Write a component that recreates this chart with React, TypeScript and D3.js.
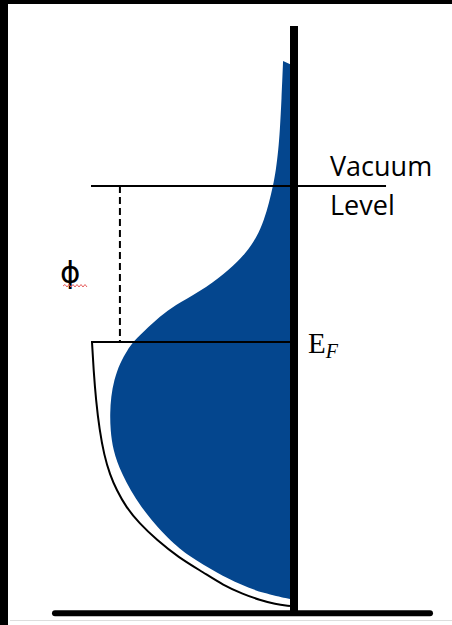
import React from "react";
import * as d3 from "d3";

// Energies in eV (Fermi level = 0), density of states in relative units
const fermiLevel = 0;
const vacuumLevel = 5.0;
const axisTop = 10.13;
const axisBottom = -8.69;

// Blue: actual density of states (left edge), from top tip down to band bottom
const bandEnergy = [9.01, 7.76, 6.79, 6.15, 5.51, 5.0, 4.46, 3.91, 3.37, 2.85, 2.31, 1.76, 1.25, 0.93, 0.48, 0, -0.26, -0.67, -1.22, -1.76, -2.28, -2.82, -3.46, -4.2, -5.29, -6.35, -6.89, -7.4, -7.79, -8.05, -8.24];
const bandDensity = [0.035, 0.043, 0.051, 0.059, 0.071, 0.086, 0.106, 0.131, 0.167, 0.222, 0.308, 0.419, 0.561, 0.636, 0.717, 0.793, 0.821, 0.859, 0.889, 0.904, 0.909, 0.907, 0.894, 0.854, 0.758, 0.611, 0.505, 0.369, 0.247, 0.136, 0];
const bandTopEnergy = 8.85;

// Outline: free-electron occupied states below E_F
const seaEnergy = [0, -0.9, -1.86, -2.82, -3.62, -4.26, -4.74, -5.29, -5.8, -6.35, -6.89, -7.4, -7.79, -8.08, -8.27, -8.4, -8.46];
const seaDensity = [1.0, 0.992, 0.98, 0.962, 0.939, 0.909, 0.876, 0.828, 0.763, 0.672, 0.566, 0.434, 0.338, 0.237, 0.152, 0.076, 0];

const labels = { vacuum1: "Vacuum", vacuum2: "Level", phi: "ϕ", ef: "E", efSub: "F" };

export default function App() {
  const W = 452, H = 625;
  const y = d3.scaleLinear().domain([fermiLevel, vacuumLevel]).range([342, 186]);
  const x = d3.scaleLinear().domain([0, 1]).range([290, 92]);
  const axisX = x(0) + 4;

  const bandPts: [number, number][] = bandEnergy.map((e, i) => [x(bandDensity[i]), y(e)]);
  const edge = d3.line().curve(d3.curveBasis)(bandPts) as string;
  const bandPath = `${edge} L${axisX},${y(bandEnergy[bandEnergy.length - 1])} L${axisX},${y(bandTopEnergy)} Z`;

  const seaPts: [number, number][] = seaEnergy.map((e, i) => [x(seaDensity[i]), y(e)]);
  const seaPath = d3.line().curve(d3.curveBasis)(seaPts) as string;

  // red squiggle under phi
  let sq = "M63,286";
  for (let i = 0; i < 12; i++) sq += ` L${65 + i * 2},${i % 2 === 0 ? 284.5 : 287}`;

  return (
    <svg width={W} height={H} style={{ position: "absolute", left: 0, top: 0, background: "#fff" }}>
      <rect x={0} y={0} width={W} height={H} fill="#fff" />
      <path d={bandPath} fill="#04468e" />
      <path d={seaPath} fill="none" stroke="#000" strokeWidth={2} />
      {/* vacuum level */}
      <line x1={x(1.005)} x2={x(-0.485)} y1={y(vacuumLevel)} y2={y(vacuumLevel)} stroke="#000" strokeWidth={2} />
      {/* fermi level */}
      <line x1={x(1.0) - 1} x2={axisX} y1={y(fermiLevel)} y2={y(fermiLevel)} stroke="#000" strokeWidth={2} />
      {/* work function dashed */}
      <line x1={x(0.859)} x2={x(0.859)} y1={y(vacuumLevel)} y2={y(fermiLevel)} stroke="#000" strokeWidth={2} strokeDasharray="7,4" />
      {/* energy axis */}
      <line x1={axisX} x2={axisX} y1={y(axisTop)} y2={y(axisBottom)} stroke="#000" strokeWidth={8} />
      {/* baseline */}
      <line x1={x(1.187)} x2={x(-0.707)} y1={y(axisBottom)} y2={y(axisBottom)} stroke="#000" strokeWidth={6} strokeLinecap="round" />
      {/* labels */}
      <text x={330} y={176} fontFamily="Open Sans" fontSize={27} fill="#000">{labels.vacuum1}</text>
      <text x={330} y={215} fontFamily="Open Sans" fontSize={27} fill="#000">{labels.vacuum2}</text>
      <text x={60} y={283} fontFamily="DejaVu Sans" fontSize={31} fill="#000">{labels.phi}</text>
      <path d={sq} fill="none" stroke="#e86060" strokeWidth={1} />
      <text x={308} y={353} fontFamily="Liberation Serif" fontSize={29} fill="#000">
        {labels.ef}
        <tspan fontSize={20} fontStyle="italic" dy={5}>{labels.efSub}</tspan>
      </text>
      {/* frame */}
      <rect x={0} y={0} width={W} height={4} fill="#000" />
      <rect x={0} y={0} width={8} height={H} fill="#000" />
      <line x1={10} x2={W} y1={620.5} y2={620.5} stroke="#ddd" strokeWidth={1} />
    </svg>
  );
}
